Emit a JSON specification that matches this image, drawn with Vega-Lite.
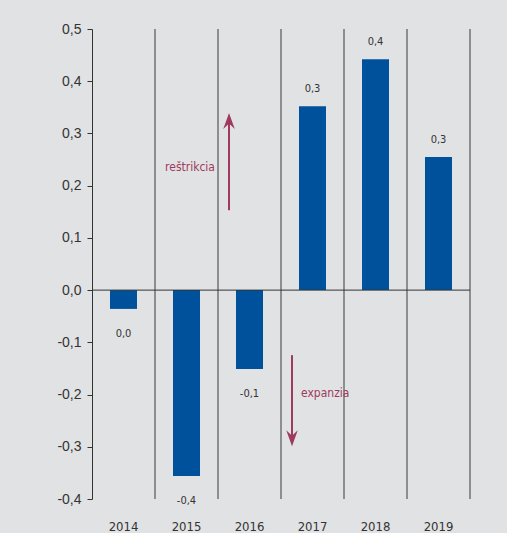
{
  "$schema": "https://vega.github.io/schema/vega-lite/v6.json",
  "width": 378,
  "height": 470,
  "autosize": {"type": "none"},
  "padding": {"left": 92, "top": 29, "right": 37, "bottom": 34},
  "background": "#e1e2e4",
  "config": {"view": {"stroke": null}},
  "datasets": {
    "bars": [
      {"year": "2014", "value": -0.036, "label": "0,0"},
      {"year": "2015", "value": -0.356, "label": "-0,4"},
      {"year": "2016", "value": -0.151, "label": "-0,1"},
      {"year": "2017", "value": 0.352, "label": "0,3"},
      {"year": "2018", "value": 0.442, "label": "0,4"},
      {"year": "2019", "value": 0.255, "label": "0,3"}
    ],
    "arrows": [
      {"year": "2016", "from": 0.153, "to": 0.328, "tip": 0.339, "dir": "up"},
      {"year": "2017", "from": -0.1245, "to": -0.288, "tip": -0.299, "dir": "down"}
    ],
    "notes": [
      {"year": "2015", "y": 0.2356, "text": "reštrikcia"},
      {"year": "2017", "y": -0.197, "text": "expanzia"}
    ]
  },
  "layer": [
    {
      "data": {"name": "bars"},
      "mark": {"type": "bar", "width": 27, "color": "#00519c"},
      "encoding": {
        "x": {"field": "year", "type": "ordinal",
              "scale": {"type": "band", "paddingInner": 0, "paddingOuter": 0},
              "axis": {"title": null, "labelAngle": 0, "labelAlign": "center", "bandPosition": 0.5, "domain": false, "ticks": false, "tickSize": 0,
                       "labelFont": "DejaVu Sans Condensed, Liberation Sans, sans-serif", "labelFontSize": 13, "labelColor": "#333333", "labelPadding": 21}},
        "y": {"field": "value", "type": "quantitative",
              "scale": {"domain": [-0.4, 0.5], "nice": false, "zero": false},
              "axis": {"title": null, "grid": false,
                       "values": [-0.4, -0.3, -0.2, -0.1, 0, 0.1, 0.2, 0.3, 0.4, 0.5],
                       "labelExpr": "replace(replace(format(datum.value, '.1f'), '.', ','), '−', '-')",
                       "labelFont": "Liberation Sans", "labelFontSize": 14, "labelColor": "#333333",
                       "tickColor": "#333333", "domainColor": "#333333", "tickSize": 5, "labelPadding": 6}}
      }
    },
    {
      "data": {"name": "bars"},
      "mark": {"type": "rule", "color": "#3a3a3a", "strokeWidth": 1},
      "encoding": {
        "x": {"field": "year", "type": "ordinal", "bandPosition": 1}
      }
    },
    {
      "data": {"values": [{"zero": 0}]},
      "mark": {"type": "rule", "color": "#333333", "strokeWidth": 1},
      "encoding": {"y": {"field": "zero", "type": "quantitative"}}
    },
    {
      "data": {"name": "bars"},
      "transform": [{"filter": "datum.value >= 0"}],
      "mark": {"type": "text", "dy": -17, "baseline": "middle", "font": "DejaVu Sans Condensed, Liberation Sans, sans-serif", "fontSize": 11, "color": "#333333"},
      "encoding": {
        "x": {"field": "year", "type": "ordinal"},
        "y": {"field": "value", "type": "quantitative"},
        "text": {"field": "label"}
      }
    },
    {
      "data": {"name": "bars"},
      "transform": [{"filter": "datum.value < 0"}],
      "mark": {"type": "text", "dy": 25, "baseline": "middle", "font": "DejaVu Sans Condensed, Liberation Sans, sans-serif", "fontSize": 11, "color": "#333333"},
      "encoding": {
        "x": {"field": "year", "type": "ordinal"},
        "y": {"field": "value", "type": "quantitative"},
        "text": {"field": "label"}
      }
    },
    {
      "data": {"name": "arrows"},
      "mark": {"type": "rule", "color": "#9e3a5c", "strokeWidth": 2},
      "encoding": {
        "x": {"field": "year", "type": "ordinal", "bandPosition": 0.175},
        "y": {"field": "from", "type": "quantitative"},
        "y2": {"field": "to"}
      }
    },
    {
      "data": {"name": "arrows"},
      "transform": [{"filter": "datum.dir === 'up'"}],
      "mark": {"type": "point", "filled": true, "opacity": 1, "color": "#9e3a5c", "size": 256,
               "shape": "M0,0L0.72,2L0,1.3L-0.72,2Z"},
      "encoding": {
        "x": {"field": "year", "type": "ordinal", "bandPosition": 0.175},
        "y": {"field": "tip", "type": "quantitative"}
      }
    },
    {
      "data": {"name": "arrows"},
      "transform": [{"filter": "datum.dir === 'down'"}],
      "mark": {"type": "point", "filled": true, "opacity": 1, "color": "#9e3a5c", "size": 256,
               "shape": "M0,0L0.72,-2L0,-1.3L-0.72,-2Z"},
      "encoding": {
        "x": {"field": "year", "type": "ordinal", "bandPosition": 0.175},
        "y": {"field": "tip", "type": "quantitative"}
      }
    },
    {
      "data": {"name": "notes"},
      "transform": [{"filter": "datum.year === '2015'"}],
      "mark": {"type": "text", "align": "right", "baseline": "middle", "dx": -3, "font": "DejaVu Sans Condensed, Liberation Sans, sans-serif", "fontSize": 12, "color": "#9e3a5c"},
      "encoding": {
        "x": {"field": "year", "type": "ordinal", "bandPosition": 1},
        "y": {"field": "y", "type": "quantitative"},
        "text": {"field": "text"}
      }
    },
    {
      "data": {"name": "notes"},
      "transform": [{"filter": "datum.year === '2017'"}],
      "mark": {"type": "text", "align": "left", "baseline": "middle", "dx": 9, "font": "DejaVu Sans Condensed, Liberation Sans, sans-serif", "fontSize": 12, "color": "#9e3a5c"},
      "encoding": {
        "x": {"field": "year", "type": "ordinal", "bandPosition": 0.175},
        "y": {"field": "y", "type": "quantitative"},
        "text": {"field": "text"}
      }
    }
  ]
}
